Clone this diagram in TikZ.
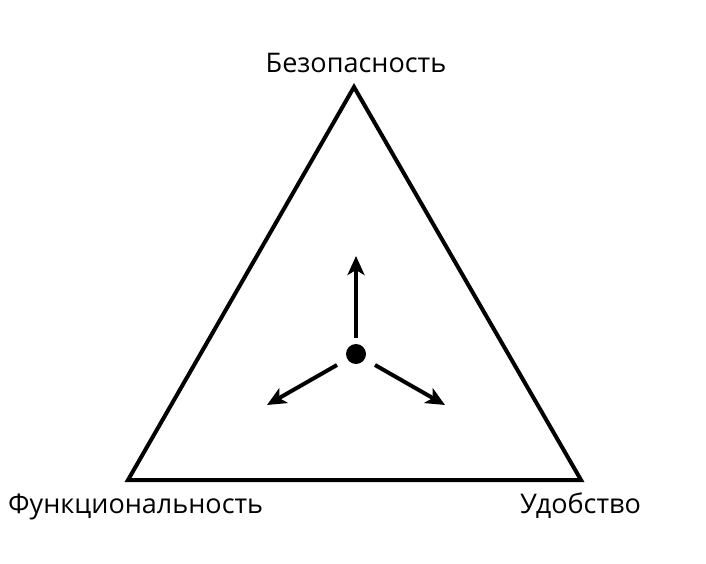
\documentclass[tikz,border=0pt]{standalone}
\usepackage{fontspec}
\setmainfont{Open Sans}
\usetikzlibrary{arrows.meta}
\begin{document}
\begin{tikzpicture}[x=1pt,y=-1pt,
  edge/.style={line width=4pt, line join=miter},
  vec/.style={line width=4pt, -{Stealth[length=19pt,width=17pt,inset=5pt]}},
  lbl/.style={font=\fontsize{27}{32}\selectfont, inner sep=0pt}]
\useasboundingbox (0,0) rectangle (706,564);
\coordinate (A) at (354,87);
\coordinate (B) at (128,480);
\coordinate (C) at (581,480);
\draw[edge] (A) -- (B) -- (C) -- cycle;
\node[circle, fill=black, minimum size=20pt, inner sep=0pt] (O) at (356,354) {};
\coordinate (U) at (356,256);
\coordinate (L) at (267,405);
\coordinate (R) at (445,405);
\draw[vec] (356,338) -- (U);
\draw[vec] (337,365) -- (L);
\draw[vec] (375,365) -- (R);
\node[lbl, anchor=base] (t1) at (356,73) {Безопасность};
\node[lbl, anchor=base west] (t2) at (8,513) {Функциональность};
\node[lbl, anchor=base west] (t3) at (520,513) {Удобство};
\end{tikzpicture}
\end{document}
